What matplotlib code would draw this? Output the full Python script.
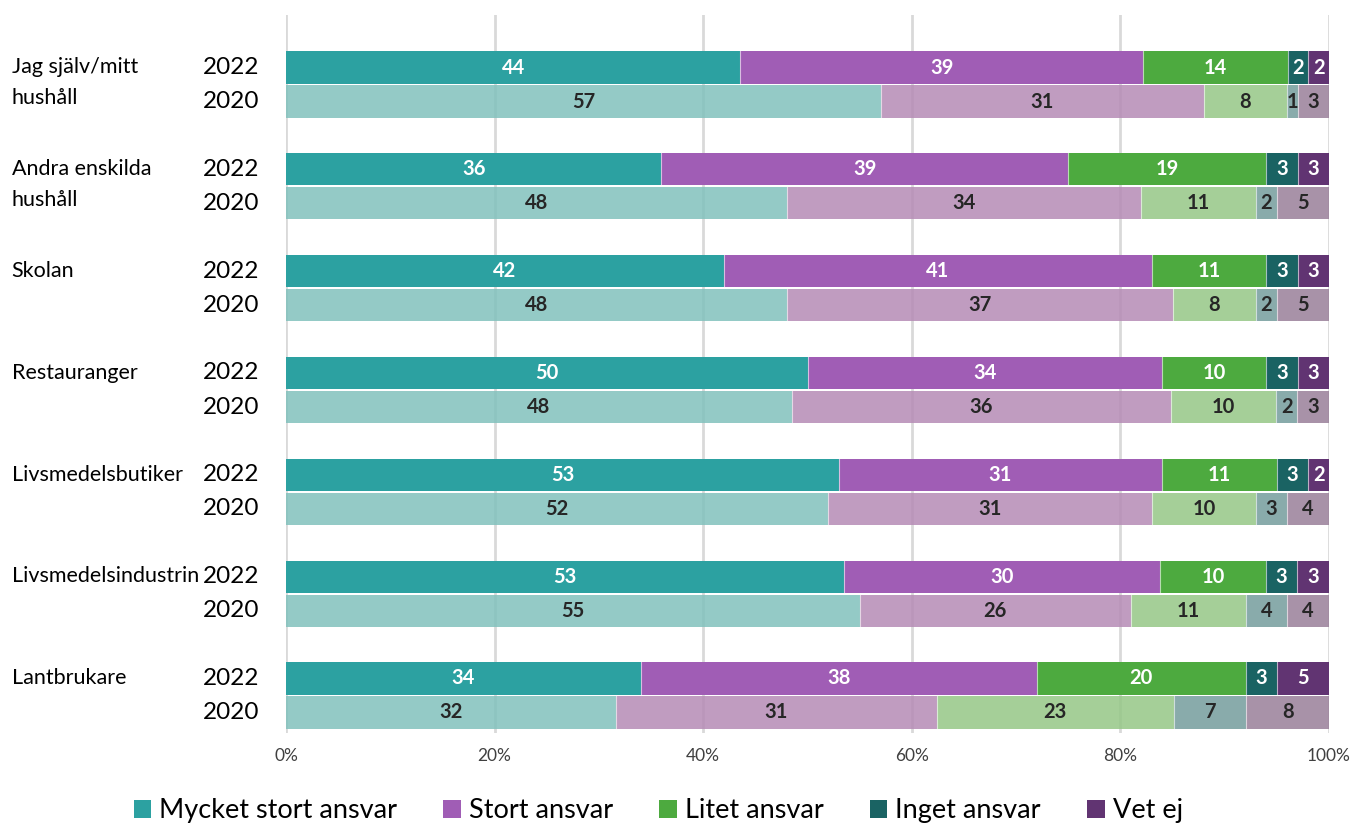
import matplotlib
matplotlib.use("Agg")
import matplotlib.pyplot as plt
from matplotlib.patches import Patch
from matplotlib.colors import to_rgb
import numpy as np

plt.rcParams['font.family'] = ['Lato', 'DejaVu Sans']

categories = ["Jag själv/mitt\nhushåll", "Andra enskilda\nhushåll", "Skolan",
              "Restauranger", "Livsmedelsbutiker", "Livsmedelsindustrin", "Lantbrukare"]
years = ["2022", "2020"]
series = ["Mycket stort ansvar", "Stort ansvar", "Litet ansvar", "Inget ansvar", "Vet ej"]

# rows: categories, columns: series
values_2022 = [
    [44, 39, 14, 2, 2],
    [36, 39, 19, 3, 3],
    [42, 41, 11, 3, 3],
    [50, 34, 10, 3, 3],
    [53, 31, 11, 3, 2],
    [53, 30, 10, 3, 3],
    [34, 38, 20, 3, 5],
]
values_2020 = [
    [57, 31, 8, 1, 3],
    [48, 34, 11, 2, 5],
    [48, 37, 8, 2, 5],
    [48, 36, 10, 2, 3],
    [52, 31, 10, 3, 4],
    [55, 26, 11, 4, 4],
    [32, 31, 23, 7, 8],
]
tick_values = [0, 20, 40, 60, 80, 100]
tick_labels = ["0%", "20%", "40%", "60%", "80%", "100%"]

colors_2022 = ["#2ca1a1", "#a05db5", "#4daa3f", "#1a6363", "#613472"]
colors_2020 = ["#94cac6", "#c09cc0", "#a5cf98", "#8aacac", "#a892a8"]

# 2020 bars are slightly translucent so the grid shows through faintly
ALPHA_2020 = 0.85

def base_for_alpha(hex_color, a):
    rgb = np.array(to_rgb(hex_color))
    return tuple(np.clip((rgb - (1 - a)) / a, 0, 1))

fig = plt.figure(figsize=(13.57, 8.23), dpi=100)
ax = fig.add_axes([286 / 1357, 1 - 733 / 823, (1329 - 286) / 1357, (733 - 15) / 823])

offset = 0.167
bar_h = 0.315
n = len(categories)
group_y = np.arange(n)

def draw_rows(vals, ypos, cols, alpha, txtcolor):
    vals = np.asarray(vals, dtype=float)
    shares = vals / vals.sum(axis=1, keepdims=True) * 100
    left = np.zeros(len(vals))
    for j in range(vals.shape[1]):
        ax.barh(ypos, shares[:, j], left=left, height=bar_h, color=cols[j],
                alpha=alpha, edgecolor="none", linewidth=0, zorder=3)
        for i in range(len(vals)):
            ax.text(left[i] + shares[i, j] / 2, ypos[i], f"{int(vals[i, j])}",
                    ha="center", va="center", fontsize=14.5, fontweight="bold",
                    color=txtcolor, zorder=4)
        left += shares[:, j]
    # thin white separators between segments
    inner = np.cumsum(shares, axis=1)[:, :-1]
    for i in range(len(vals)):
        for xb in inner[i]:
            ax.plot([xb, xb], [ypos[i] - bar_h / 2, ypos[i] + bar_h / 2],
                    color="white", linewidth=0.8, alpha=0.6, zorder=3.5)

draw_rows(values_2022, group_y - offset, colors_2022, 1.0, "white")
draw_rows(values_2020, group_y + offset,
          [base_for_alpha(c, ALPHA_2020) for c in colors_2020], ALPHA_2020, "#262626")

ax.set_xlim(0, 100)
ax.set_ylim(6 + (733 - 695.5) / 101.8, -(84.5 - 15) / 101.8)
ax.set_xticks(tick_values)
ax.set_xticklabels(tick_labels, fontsize=12.5, color="#404040")
ax.tick_params(axis="x", length=0, pad=11)
ax.set_yticks([])
for s in ax.spines.values():
    s.set_visible(False)
ax.xaxis.grid(True, color="#d9d9d9", linewidth=2)
ax.set_axisbelow(True)

# category and year labels on the left
for i, cat in enumerate(categories):
    ax.text(-26.3, i - offset - 0.10, cat, ha="left", va="top", fontsize=15.5,
            linespacing=1.65, clip_on=False)
    for k, yr in enumerate(years):
        yy = i - offset if k == 0 else i + offset
        ax.text(-2.6, yy, yr, ha="right", va="center", fontsize=17.5,
                clip_on=False)

handles = [Patch(facecolor=c, edgecolor="none") for c in colors_2022]
fig.legend(handles, series, loc="lower center", ncol=5, frameon=False,
           bbox_to_anchor=(0.485, -0.03), fontsize=19.5, handlelength=0.65,
           handleheight=0.65, handletextpad=0.3, columnspacing=1.7)

fig.savefig("out.png", dpi=100)
